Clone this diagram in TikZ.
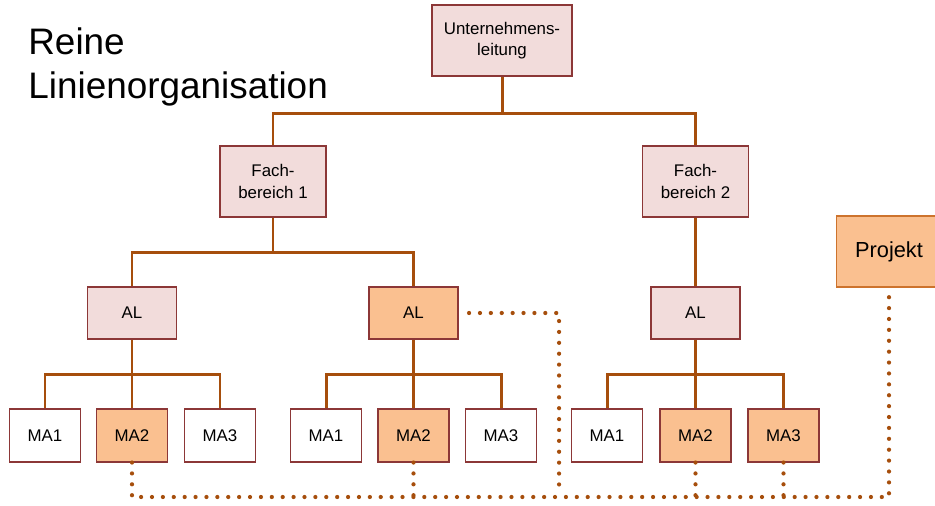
\documentclass[tikz,border=0pt]{standalone}
\usepackage{fontspec}
\setmainfont{Liberation Sans}

\definecolor{linecol}{RGB}{166,78,12}
\definecolor{boxline}{RGB}{140,55,55}
\definecolor{rosefill}{RGB}{242,220,219}
\definecolor{orangefill}{RGB}{250,192,144}
\definecolor{projline}{RGB}{205,115,45}

\begin{document}
\begin{tikzpicture}[x=0.02cm,y=-0.02cm,
    unit/.style={draw=boxline,line width=0.6pt,inner sep=0pt,align=center,font=\fontsize{9.6}{12}\selectfont},
    lead/.style={unit,fill=rosefill,minimum width=2.12cm,minimum height=1.42cm},
    head/.style={unit,fill=rosefill,minimum width=1.78cm,minimum height=1.04cm},
    staff/.style={unit,fill=white,minimum width=1.42cm,minimum height=1.06cm},
    marked/.style={fill=orangefill},
    conn/.style={draw=linecol,line width=1.7pt},
    link/.style={draw=linecol,line width=2.4pt,line cap=round,dash pattern=on 0pt off 6.2pt}]

\useasboundingbox (0,0) rectangle (935,506);
\clip (0,0) rectangle (935,506);

\node[anchor=north west,inner sep=0pt,align=left,font=\fontsize{21}{25}\selectfont] (title) at (28,27) {Reine\\Linienorganisation};

% Leitung und Fachbereiche
\node[lead,minimum width=2.8cm] (ul) at (502,40.5) {Unternehmens-\\leitung};
\node[lead] (fb1) at (273,181.5) {Fach-\\bereich 1};
\node[lead] (fb2) at (695.5,181.5) {Fach-\\bereich 2};

% Abteilungsleiter
\node[head] (al1) at (132,313) {AL};
\node[head,marked] (al2) at (413.5,313) {AL};
\node[head] (al3) at (695.5,313) {AL};

% Mitarbeiter
\node[staff] (ma1a) at (45,435.5) {MA1};
\node[staff,marked] (ma2a) at (132,435.5) {MA2};
\node[staff] (ma3a) at (220,435.5) {MA3};
\node[staff] (ma1b) at (326,435.5) {MA1};
\node[staff,marked] (ma2b) at (413.5,435.5) {MA2};
\node[staff] (ma3b) at (501,435.5) {MA3};
\node[staff] (ma1c) at (607,435.5) {MA1};
\node[staff,marked] (ma2c) at (695.5,435.5) {MA2};
\node[staff,marked] (ma3c) at (783.5,435.5) {MA3};

\node[unit,draw=projline,fill=orangefill,minimum width=2.12cm,minimum height=1.42cm,font=\fontsize{12.4}{14}\selectfont] (proj) at (889,251.5) {Projekt};

% Linie
\draw[conn] (ul.south) -- ++(0,37) -| (fb1.north);
\draw[conn] (ul.south) -- ++(0,37) -| (fb2.north);
\draw[conn] (fb1.south) -- ++(0,35) -| (al1.north);
\draw[conn] (fb1.south) -- ++(0,35) -| (al2.north);
\draw[conn] (fb2.south) -- (al3.north);

\draw[conn] (al1.south) -- ++(0,35) -| (ma1a.north);
\draw[conn] (al1.south) -- ++(0,35) -| (ma3a.north);
\draw[conn] (al1.south) -- (ma2a.north);
\draw[conn] (al2.south) -- ++(0,35) -| (ma1b.north);
\draw[conn] (al2.south) -- ++(0,35) -| (ma3b.north);
\draw[conn] (al2.south) -- (ma2b.north);
\draw[conn] (al3.south) -- ++(0,35) -| (ma1c.north);
\draw[conn] (al3.south) -- ++(0,35) -| (ma3c.north);
\draw[conn] (al3.south) -- (ma2c.north);

% Projekt
\coordinate (busl) at (132,497);
\coordinate (busr) at (889,497);
\draw[link] (ma2a.south) -- (busl) -- (busr) -- (proj.south);
\draw[link] ([xshift=6]al2.east) -- ++(90,0) -- ++(0,175);
\draw[link] (ma2b.south) -- (ma2b.south |- busl);
\draw[link] (ma2c.south) -- (ma2c.south |- busl);
\draw[link] (ma3c.south) -- (ma3c.south |- busl);

\end{tikzpicture}
\end{document}
